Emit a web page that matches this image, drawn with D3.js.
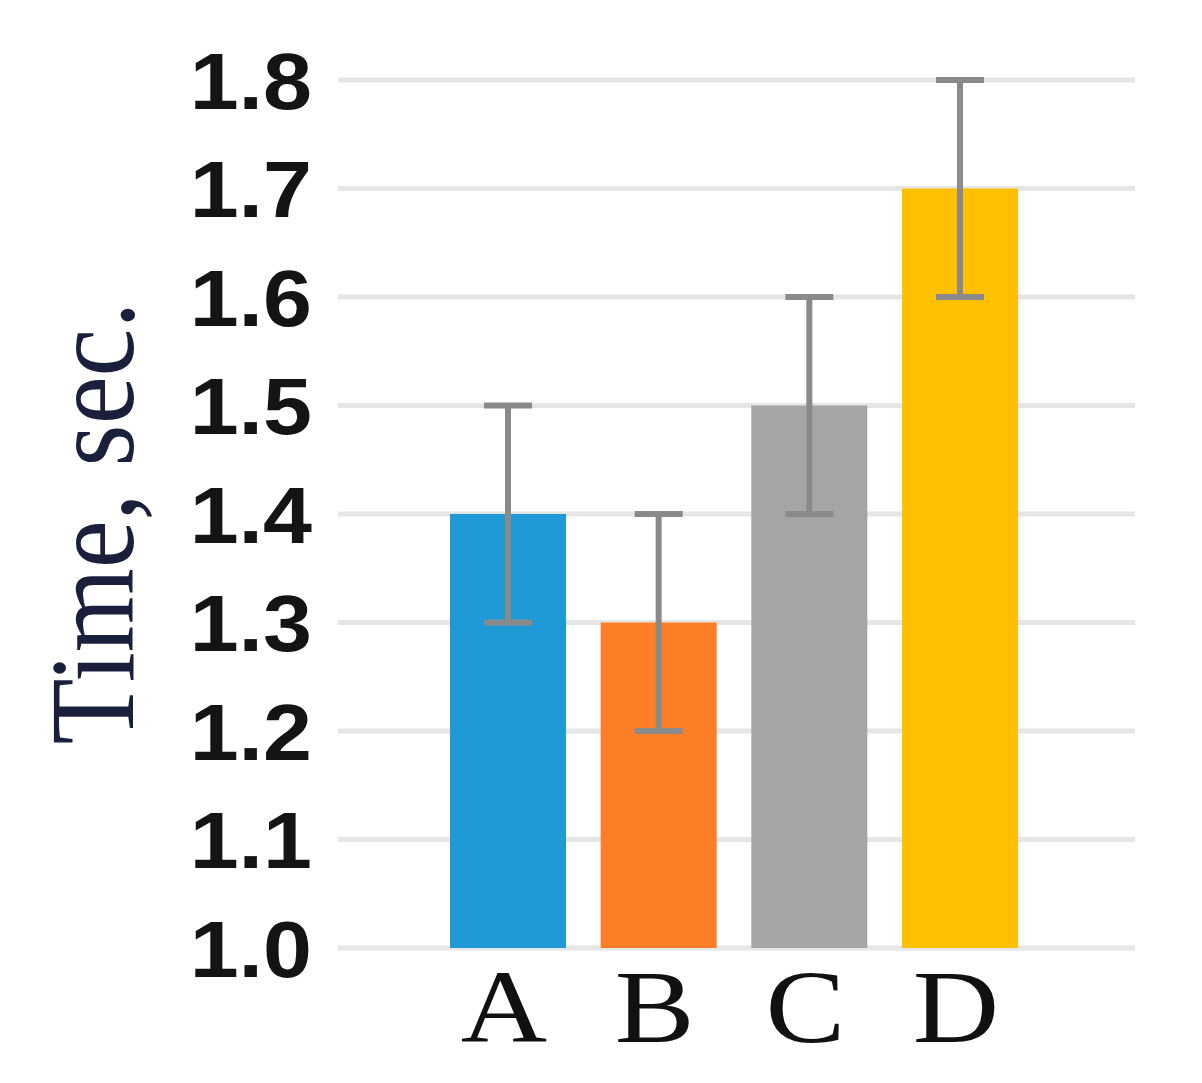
<!DOCTYPE html>
<html><head><meta charset="utf-8">
<script src="https://cdn.jsdelivr.net/npm/d3@7"></script>
<style>html,body{margin:0;padding:0;background:#fff;}</style>
</head><body>
<svg id="chart" width="1202" height="1083"></svg>
<script>
const categories = ["A", "B", "C", "D"];
const values = [1.4, 1.3, 1.5, 1.7];
const errLow = [1.3, 1.2, 1.4, 1.6];
const errHigh = [1.5, 1.4, 1.6, 1.8];
const colors = ["#1f9ad7", "#fd7e27", "#a5a5a5", "#ffc000"];
const yTicks = [1.0, 1.1, 1.2, 1.3, 1.4, 1.5, 1.6, 1.7, 1.8];
const yTitle = "Time, sec.";

const svg = d3.select("#chart");
const y = d3.scaleLinear().domain([1.0, 1.8]).range([948, 80]);
const x = d3.scaleBand().domain(categories).range([450, 1018]).paddingInner(0.23).paddingOuter(0);

// gridlines
svg.append("g").selectAll("line").data(yTicks).join("line")
  .attr("x1", 338).attr("x2", 1135)
  .attr("y1", d => y(d)).attr("y2", d => y(d))
  .attr("stroke", "#e6e6e6").attr("stroke-width", 5);

// y tick labels
svg.append("g").selectAll("text").data(yTicks).join("text")
  .attr("transform", d => `translate(312,${y(d)}) scale(1.1,1)`)
  .attr("text-anchor", "end").attr("dy", "0.36em")
  .attr("font-family", "Liberation Sans, Arial, sans-serif")
  .attr("font-weight", "bold").attr("font-size", 80).attr("fill", "#141414")
  .text(d => d.toFixed(1));

// bars
svg.append("g").selectAll("rect").data(categories).join("rect")
  .attr("x", d => x(d)).attr("width", x.bandwidth())
  .attr("y", (d, i) => y(values[i]))
  .attr("height", (d, i) => y(1.0) - y(values[i]))
  .attr("fill", (d, i) => colors[i]);

// error bars
const eg = svg.append("g").attr("stroke", "#8a8a8a").attr("stroke-width", 6);
categories.forEach((c, i) => {
  const cx = x(c) + x.bandwidth() / 2;
  eg.append("line").attr("x1", cx).attr("x2", cx).attr("y1", y(errLow[i])).attr("y2", y(errHigh[i]));
  eg.append("line").attr("x1", cx - 24).attr("x2", cx + 24).attr("y1", y(errLow[i])).attr("y2", y(errLow[i]));
  eg.append("line").attr("x1", cx - 24).attr("x2", cx + 24).attr("y1", y(errHigh[i])).attr("y2", y(errHigh[i]));
});

// x labels
svg.append("g").selectAll("text").data(categories).join("text")
  .attr("transform", d => `translate(${x(d) + x.bandwidth() / 2 - 4},1042) scale(1.15,1)`)
  .attr("text-anchor", "middle")
  .attr("font-family", "Liberation Serif, Times New Roman, serif")
  .attr("font-size", 104).attr("fill", "#111")
  .text(d => d);

// y title
svg.append("text")
  .attr("transform", "translate(133,523) scale(1.12,1) rotate(-90)")
  .attr("text-anchor", "middle")
  .attr("font-family", "Liberation Serif, Times New Roman, serif")
  .attr("font-size", 108).attr("fill", "#1a1f3c")
  .text(yTitle);
</script>
</body></html>
